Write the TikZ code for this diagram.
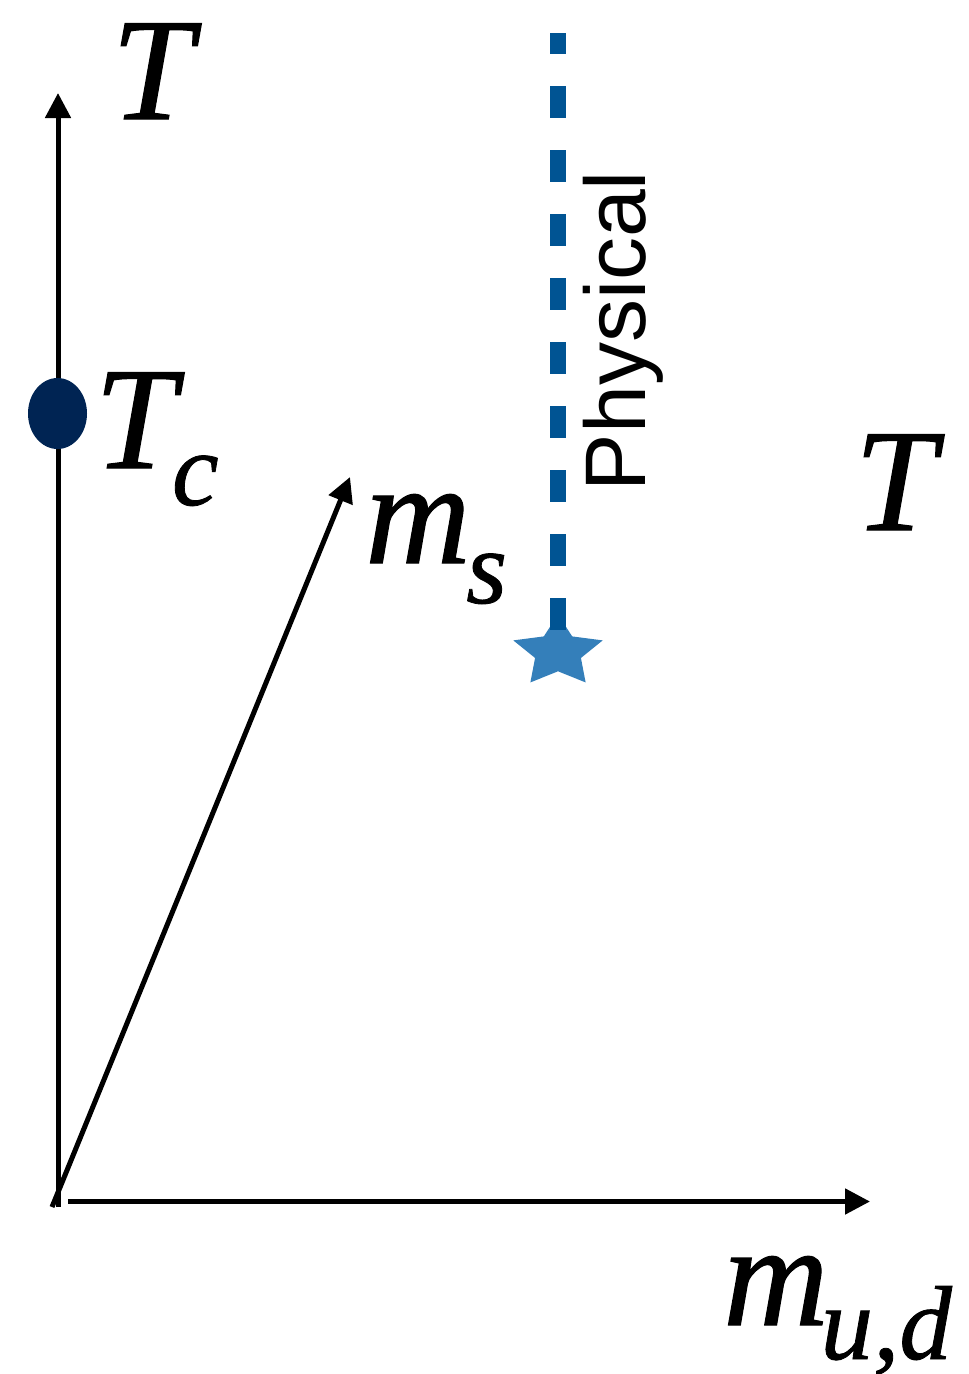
\documentclass[tikz,border=0pt]{standalone}
\usepackage{fontspec}
\setmainfont{Liberation Serif}
\newfontfamily\labelfont[FakeBold=0.8]{Liberation Serif Italic}
\newfontfamily\physfont{Liberation Sans}
\usetikzlibrary{arrows.meta,shapes.geometric}
\definecolor{navydot}{RGB}{0,36,83}
\definecolor{physblue}{RGB}{0,84,147}
\definecolor{starblue}{RGB}{52,127,186}
\newcommand{\subsz}{\fontsize{105}{105}\selectfont}
\begin{document}
\begin{tikzpicture}[x=1pt,y=-1pt,
  axisline/.style={line width=5pt,-{Triangle[length=25pt,width=25pt]}},
  biglabel/.style={font=\fontsize{146}{146}\selectfont\labelfont,inner sep=0pt,anchor=base west},
  physline/.style={draw=physblue,line width=16pt,dash pattern=on 32pt off 32pt,dash phase=11pt},
  tcdot/.style={ellipse,fill=navydot,minimum width=59pt,minimum height=71pt,inner sep=0pt},
  physstar/.style={star,star points=5,star point ratio=1.95,fill=starblue,minimum size=94pt,inner sep=0pt,yscale=0.8}]
\useasboundingbox (0,0) rectangle (969,1374);
% axes
\coordinate (O) at (58,1207);
\coordinate (Ttop) at (58,93);
\coordinate (xs) at (68,1201.5);
\coordinate (xe) at (870,1201.5);
\coordinate (ds) at (52,1207);
\coordinate (de) at (350,477);
\draw[axisline] (O) -- (Ttop);
\draw[axisline] (xs) -- (xe);
\draw[axisline] (ds) -- (de);
% Tc point
\node[tcdot] (tc) at (57.5,413.5) {};
% physical line and star
\node[physstar] (star) at (558,652) {};
\coordinate (ptop) at (558,33);
\draw[physline] (ptop) -- (star.center);
\node[font=\fontsize{86}{86}\selectfont\physfont,inner sep=0pt,anchor=base,rotate=90] (phys) at (645,331) {Physical};
% labels
\node[biglabel] (Tlab) at (111.4,119) {T};
\node[biglabel] (Tclab) at (94.4,468) {T\kern-3.8pt\raisebox{-37pt}{\subsz c}};
\node[biglabel] (mslab) at (365,563) {m\kern-4.4pt\raisebox{-40pt}{\subsz s}};
\node[biglabel] (Trlab) at (854.4,530) {T};
\node[biglabel] (mudlab) at (723,1325) {m\kern-8pt\raisebox{-34pt}{\subsz u,d}};
\end{tikzpicture}
\end{document}
